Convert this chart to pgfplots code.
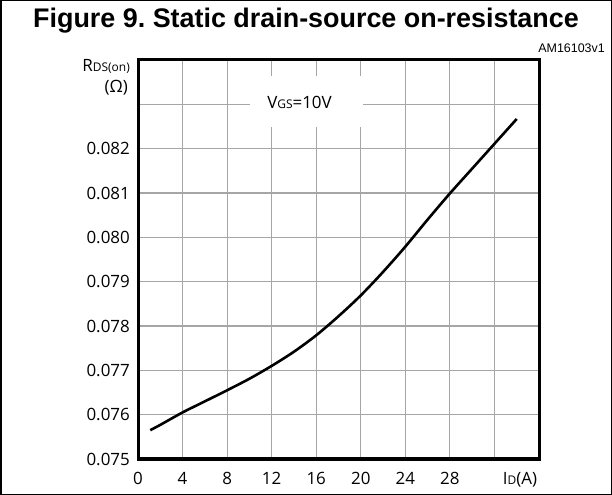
\documentclass[border=0pt]{standalone}
\usepackage{pgfplots}
\pgfplotsset{compat=1.18}
\usepackage{fontspec}
\setmainfont{Open Sans}
\newfontfamily\arialfont{Liberation Sans}
\frenchspacing
\pgfplotstableread{
x y
1.1 0.07565
2 0.07577
4 0.07605
6 0.07630
8 0.07655
10 0.07681
12 0.07710
14 0.07742
16 0.07779
18 0.07822
20 0.07869
22 0.07922
24 0.07979
26 0.08040
28 0.08099
30 0.08155
32 0.08211
34 0.08267
}\rdson
\newcommand{\bigf}{\fontsize{17}{20}\selectfont}
\newcommand{\smf}{\fontsize{12}{14}\selectfont}
\begin{document}
\begin{tikzpicture}
\draw[line width=1.5bp] (0.75bp,0.75bp) rectangle (611.25bp,494.25bp);
\node[font=\arialfont\bfseries\fontsize{27}{30}\selectfont, anchor=base] at (306bp,467bp) {Figure 9. Static drain-source on-resistance};
\node[font=\arialfont\fontsize{12.5}{14}\selectfont, anchor=base east, inner sep=0pt] at (605bp,442bp) {AM16103v1};
\begin{axis}[
  at={(138bp,36bp)}, anchor=south west, scale only axis,
  width=401bp, height=399bp,
  xmin=0, xmax=36, ymin=0.075, ymax=0.084,
  xtick={0,4,8,12,16,20,24,28,32},
  xticklabels={0,4,8,12,16,20,24,28,{}},
  ytick={0.075,0.076,0.077,0.078,0.079,0.080,0.081,0.082,0.083},
  yticklabels={0.075,0.076,0.077,0.078,0.079,0.080,0.081,0.082,{}},
  scaled y ticks=false, scaled x ticks=false,
  grid=major,
  major grid style={line width=1.2bp, color=black!35},
  axis line style={line width=3bp, black},
  major tick length=0pt,
  tick label style={font=\bigf, inner sep=0pt},
  xticklabel style={anchor=north, yshift=-13bp},
  yticklabel style={anchor=east, xshift=-8bp},
  clip=false,
]
\fill[white] (axis cs:10.05,0.08248) rectangle (axis cs:20.2,0.08363);
\node[font=\bigf, inner sep=0pt] at (axis cs:14.5,0.08304) {V{\smf GS}=10V};
\addplot[line width=2.6bp, black, smooth, no markers] table[x=x,y=y] {\rdson};
\end{axis}
\node[anchor=base east, inner sep=0pt, font=\bigf] at (130bp,423bp) {R{\smf DS(on)}};
\node[anchor=base east, inner sep=0pt, font=\bigf] at (128bp,402bp) {(Ω)};
\node[anchor=base, inner sep=0pt, font=\bigf] at (520bp,11bp) {I{\smf D}(A)};
\end{tikzpicture}
\end{document}
